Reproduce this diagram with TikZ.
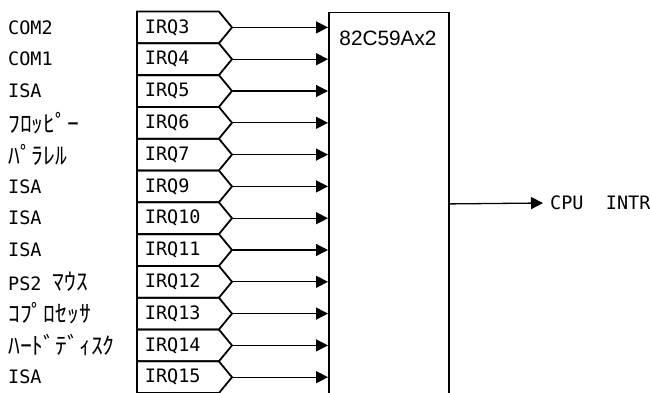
\documentclass[tikz,border=0pt]{standalone}
\usepackage{fontspec}
\setmainfont{Liberation Sans}
\setmonofont{DejaVu Sans Mono}
\newfontfamily\jpfont[Scale=1.28]{Noto Sans CJK JP}
\usetikzlibrary{shapes.symbols,arrows.meta}

\begin{document}
\begin{tikzpicture}[
	x=1pt, y=-1pt,
	src/.style={
		anchor=west, inner sep=0pt,
		font=\ttfamily\fontsize{18.5}{20}\selectfont
	},
	irq/.style={
		draw, line width=1.8pt, signal, signal to=east, signal pointer angle=101,
		minimum height=31.8pt, text width=66pt, inner xsep=8pt, inner ysep=0pt,
		align=left, anchor=west, font=\ttfamily\fontsize{18.5}{20}\selectfont
	},
	chip/.style={
		draw, line width=1.8pt, rectangle, anchor=north west,
		minimum width=120pt, minimum height=383pt, inner sep=0pt
	},
	arr/.style={-{Triangle[length=12pt,width=12pt]}, line width=1.3pt},
	]
	\useasboundingbox (0,0) rectangle (650,392);
	
	% Interrupt sources (x=8)
	\node[src] (src3)  at (8, 27.4)  {COM2};
	\node[src] (src4)  at (8, 59.2)  {COM1};
	\node[src] (src5)  at (8, 91.0)  {ISA};
	\node[src] (src6)  at (8, 122.8) {\jpfont ﾌﾛｯﾋﾟｰ};
	\node[src] (src7)  at (8, 154.6) {\jpfont ﾊﾟﾗﾚﾙ};
	\node[src] (src9)  at (8, 186.4) {ISA};
	\node[src] (src10) at (8, 218.2) {ISA};
	\node[src] (src11) at (8, 250.0) {ISA};
	\node[src] (src12) at (8, 281.8) {PS2 {\jpfont ﾏｳｽ}};
	\node[src] (src13) at (8, 313.6) {\jpfont ｺﾌﾟﾛｾｯｻ};
	\node[src] (src14) at (8, 345.4) {\jpfont ﾊｰﾄﾞﾃﾞｨｽｸ};
	\node[src] (src15) at (8, 377.2) {ISA};
	
	% IRQ lines (x=136)
	\node[irq] (irq3)  at (136, 27.4)  {IRQ3};
	\node[irq] (irq4)  at (136, 59.2)  {IRQ4};
	\node[irq] (irq5)  at (136, 91.0)  {IRQ5};
	\node[irq] (irq6)  at (136, 122.8) {IRQ6};
	\node[irq] (irq7)  at (136, 154.6) {IRQ7};
	\node[irq] (irq9)  at (136, 186.4) {IRQ9};
	\node[irq] (irq10) at (136, 218.2) {IRQ10};
	\node[irq] (irq11) at (136, 250.0) {IRQ11};
	\node[irq] (irq12) at (136, 281.8) {IRQ12};
	\node[irq] (irq13) at (136, 313.6) {IRQ13};
	\node[irq] (irq14) at (136, 345.4) {IRQ14};
	\node[irq] (irq15) at (136, 377.2) {IRQ15};
	
	% Interrupt controller (x=328)
	\node[chip] (pic) at (328, 11.5) {};
	\node[font=\fontsize{20.8}{22}\selectfont] (picname) at (388, 38) {82C59Ax2};
	\node[src, inner xsep=7pt] (cpu) at (543, 203) {CPU\ \ INTR};
	
	% IRQ -> controller
	\draw[arr] (irq3.east)  -- (pic.west |- irq3.east);
	\draw[arr] (irq4.east)  -- (pic.west |- irq4.east);
	\draw[arr] (irq5.east)  -- (pic.west |- irq5.east);
	\draw[arr] (irq6.east)  -- (pic.west |- irq6.east);
	\draw[arr] (irq7.east)  -- (pic.west |- irq7.east);
	\draw[arr] (irq9.east)  -- (pic.west |- irq9.east);
	\draw[arr] (irq10.east) -- (pic.west |- irq10.east);
	\draw[arr] (irq11.east) -- (pic.west |- irq11.east);
	\draw[arr] (irq12.east) -- (pic.west |- irq12.east);
	\draw[arr] (irq13.east) -- (pic.west |- irq13.east);
	\draw[arr] (irq14.east) -- (pic.west |- irq14.east);
	\draw[arr] (irq15.east) -- (pic.west |- irq15.east);
	
	% controller -> CPU
	\draw[arr] (pic.east) -- (cpu.west);
	
\end{tikzpicture}
\end{document}
